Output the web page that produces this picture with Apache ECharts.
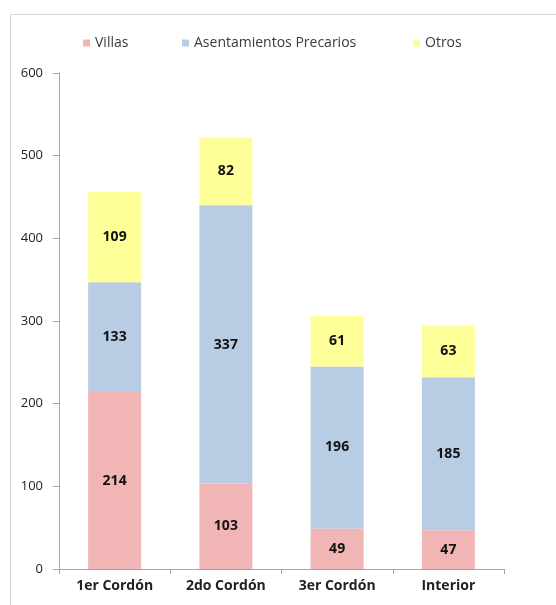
<!DOCTYPE html>
<html><head><meta charset="utf-8">
<script src="https://cdn.jsdelivr.net/npm/echarts@6/dist/echarts.min.js"></script>
<style>html,body{margin:0;padding:0;background:#fff}#c{width:556px;height:605px}</style>
</head><body><div id="c"></div>
<script>
const categories = ['1er Cordón', '2do Cordón', '3er Cordón', 'Interior'];
const villas = [214, 103, 49, 47];
const asentamientos = [133, 337, 196, 185];
const otros = [109, 82, 61, 63];
const seriesNames = ['Villas', 'Asentamientos Precarios', 'Otros'];
const yTicks = { min: 0, max: 600, interval: 100 };

const font = '"Open Sans", "Noto Sans", sans-serif';
const chart = echarts.init(document.getElementById('c'), null, { renderer: 'canvas' });
const lbl = { show: true, position: 'inside', color: '#111', fontWeight: 'bold', fontSize: 14, fontFamily: font };
function s(name, data, color) {
  return { name, type: 'bar', stack: 'a', data, barWidth: 53, itemStyle: { color }, label: lbl };
}
const legendBase = { top: 31, itemWidth: 7, itemHeight: 7, itemGap: 4, icon: 'rect',
  textStyle: { fontSize: 14, color: '#3a3a3a', fontFamily: font, padding: [0, 0, 0, 0] } };
chart.setOption({
  animation: false,
  textStyle: { fontFamily: font },
  graphic: [{ type: 'rect', shape: { x: 10.5, y: 14.5, width: 560, height: 600 }, style: { fill: 'none', stroke: '#d4d4d4', lineWidth: 1 } }],
  legend: [
    Object.assign({ left: 78, data: [seriesNames[0]] }, legendBase),
    Object.assign({ left: 177, data: [seriesNames[1]] }, legendBase),
    Object.assign({ left: 408, data: [seriesNames[2]] }, legendBase)
  ],
  grid: { left: 59, right: 52, top: 73, bottom: 36 },
  xAxis: {
    type: 'category', data: categories,
    axisLine: { lineStyle: { color: '#a6a6a6' } },
    axisTick: { show: true, alignWithLabel: false, length: 5, lineStyle: { color: '#a6a6a6' } },
    axisLabel: { color: '#222', fontWeight: 'bold', fontSize: 14, margin: 10, fontFamily: font }
  },
  yAxis: {
    type: 'value', min: yTicks.min, max: yTicks.max, interval: yTicks.interval,
    axisLine: { show: true, lineStyle: { color: '#a6a6a6' } },
    axisTick: { show: true, length: 6, lineStyle: { color: '#a6a6a6' } },
    splitLine: { show: false },
    axisLabel: { color: '#222', fontSize: 13, margin: 16, fontFamily: font }
  },
  series: [
    s(seriesNames[0], villas, '#F2B5B5'),
    s(seriesNames[1], asentamientos, '#B8CCE4'),
    s(seriesNames[2], otros, '#FFFF99')
  ]
});
</script></body></html>
